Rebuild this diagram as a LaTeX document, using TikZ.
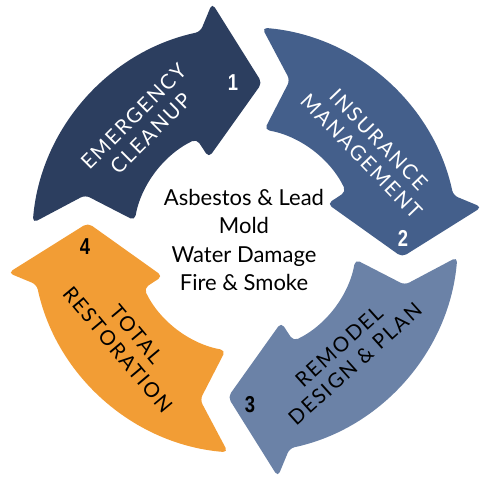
\documentclass[tikz,border=0pt]{standalone}
\usepackage{fontspec}
\setmainfont{Lato}
\newfontfamily\numfont{Liberation Sans}
\newfontfamily\capsfont[LetterSpace=9]{Lato}
\definecolor{cA}{HTML}{2C3E5F}
\definecolor{cB}{HTML}{445F8B}
\definecolor{cC}{HTML}{6B82A7}
\definecolor{cD}{HTML}{F29D35}
\newcommand\CycArrow{(265.4:213pt) arc[start angle=265.4, end angle=192.1, radius=213pt] -- (187.9:239pt) -- (173.8:158pt) -- (203.7:90pt) -- (205.6:112pt) arc[start angle=205.6, end angle=260, radius=112pt] -- (254.3:166pt) -- cycle}
\begin{document}
\begin{tikzpicture}[
  arrowshape/.style={fill=#1, draw=none, rounded corners=5pt},
  lbl/.style={align=center, font=\capsfont\fontsize{20.5}{24}\selectfont, inner sep=0pt},
  num/.style={font=\numfont\bfseries\fontsize{23}{23}\selectfont, inner sep=0pt},
  ctr/.style={align=center, font=\fontsize{22}{28.3}\selectfont, inner sep=0pt}
]
\path[use as bounding box] (-245pt,-246pt) rectangle (240pt,240pt);
\begin{scope}[rotate=-90]
  \fill[arrowshape=cA] \CycArrow;
\end{scope}
\begin{scope}[rotate=-180]
  \fill[arrowshape=cB] \CycArrow;
\end{scope}
\begin{scope}[rotate=90]
  \fill[arrowshape=cC] \CycArrow;
\end{scope}
\fill[arrowshape=cD] \CycArrow;

\node[lbl, text=white, rotate=45] (t1) at (-103pt,115pt) {EMERGENCY\\CLEANUP};
\node[lbl, text=white, rotate=-46] (t2) at (125pt,92pt) {INSURANCE\\MANAGEMENT};
\node[lbl, text=black, rotate=42] (t3) at (102pt,-115pt) {REMODEL\\DESIGN \& PLAN};
\node[lbl, text=black, rotate=-50] (t4) at (-118pt,-102pt) {TOTAL\\RESTORATION};

\node[num, text=white] (n1) at (-12pt,157pt) {\scalebox{0.8}[1]{1}};
\node[num, text=white] (n2) at (158pt,2pt) {\scalebox{0.8}[1]{2}};
\node[num, text=black] (n3) at (5pt,-165pt) {\scalebox{0.8}[1]{3}};
\node[num, text=black] (n4) at (-160pt,-7pt) {\scalebox{0.8}[1]{4}};

\node[ctr] (c) at (-1pt,0pt) {Asbestos \& Lead\\Mold\\Water Damage\\Fire \& Smoke};
\end{tikzpicture}
\end{document}
